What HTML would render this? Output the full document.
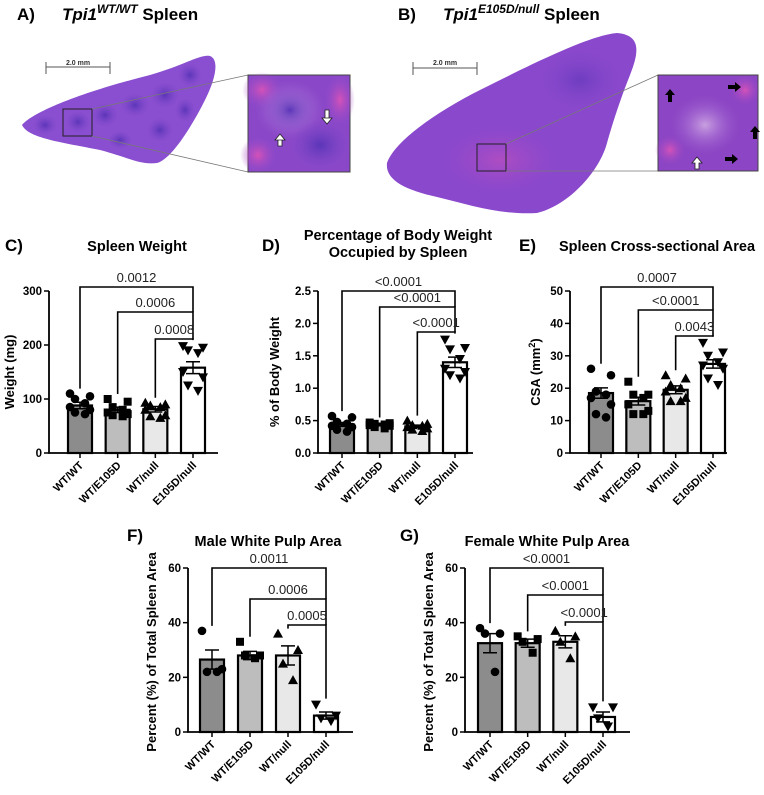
<!DOCTYPE html>
<html><head><meta charset="utf-8"><style>
html,body{margin:0;padding:0;background:#fff;}
svg{display:block;font-family:"Liberation Sans",Arial,sans-serif;}
</style></head><body>
<svg id="fig" width="764" height="795" viewBox="0 0 764 795">
<defs>
 <radialGradient id="blobA" cx="50%" cy="50%" r="50%"><stop offset="0" stop-color="#5b35b8"/><stop offset="1" stop-color="#7a45c8" stop-opacity="0"/></radialGradient>
 <radialGradient id="pinkG" cx="50%" cy="50%" r="50%"><stop offset="0" stop-color="#d452b8"/><stop offset="1" stop-color="#a04ac8" stop-opacity="0"/></radialGradient>
 <radialGradient id="paleG" cx="50%" cy="50%" r="50%"><stop offset="0" stop-color="#c9a0e0"/><stop offset="1" stop-color="#9a5ad0" stop-opacity="0"/></radialGradient>
</defs>
<!-- Panel A -->
<g>
 <text x="17" y="20" font-size="17" font-weight="bold">A)</text>
 <text x="62" y="20" font-size="17" font-weight="bold"><tspan font-style="italic">Tpi1</tspan><tspan font-size="12" dy="-7" font-style="italic">WT/WT</tspan><tspan dy="7"> Spleen</tspan></text>
 <line x1="46" y1="67" x2="110" y2="67" stroke="#555"/>
 <line x1="46" y1="62" x2="46" y2="74" stroke="#555"/><line x1="110" y1="62" x2="110" y2="74" stroke="#555"/>
 <text x="78" y="65" font-size="7" font-weight="bold" text-anchor="middle" fill="#333">2.0 mm</text>
 <path d="M22,125 C35,110 90,90 150,75 C185,65 200,54 210,56 C220,60 215,80 205,100 C190,130 170,160 157,163 C140,165 130,158 100,150 C60,142 28,138 22,125 Z" fill="#8a4ed0"/>
 <g fill="url(#blobA)">
  <ellipse cx="45" cy="125" rx="12" ry="10"/><ellipse cx="78" cy="122" rx="12" ry="11"/><ellipse cx="105" cy="115" rx="13" ry="12"/><ellipse cx="135" cy="105" rx="14" ry="12"/><ellipse cx="165" cy="95" rx="14" ry="13"/><ellipse cx="190" cy="75" rx="12" ry="12"/><ellipse cx="120" cy="140" rx="12" ry="9"/><ellipse cx="160" cy="130" rx="13" ry="12"/><ellipse cx="185" cy="110" rx="10" ry="12"/>
 </g>
 <rect x="63" y="109" width="29" height="27" fill="none" stroke="#222" stroke-width="1"/>
 <line x1="92" y1="109" x2="248" y2="75" stroke="#777" stroke-width="0.8"/><line x1="92" y1="136" x2="248" y2="172" stroke="#777" stroke-width="0.8"/>
 <rect x="248" y="75" width="102" height="97" fill="#8a48c8" stroke="#444"/>
 <ellipse cx="262" cy="90" rx="20" ry="18" fill="url(#pinkG)"/><ellipse cx="340" cy="100" rx="15" ry="25" fill="url(#pinkG)"/><ellipse cx="258" cy="155" rx="18" ry="18" fill="url(#pinkG)"/>
 <ellipse cx="290" cy="110" rx="35" ry="30" fill="url(#paleG)"/>
 <ellipse cx="290" cy="110" rx="25" ry="22" fill="url(#blobA)"/><ellipse cx="320" cy="145" rx="30" ry="25" fill="url(#blobA)"/>
 <path d="M280,140 l-5,0 l5,-6 l5,6 l-5,0 z M278,140 h4 v6 h-4 z" fill="#fff" stroke="#222" stroke-width="0.8"/>
 <path d="M327,118 l-5,0 l5,6 l5,-6 z M325,110 h4 v8 h-4 z" fill="#fff" stroke="#222" stroke-width="0.8"/>
</g>
<!-- Panel B -->
<g>
 <text x="398" y="20" font-size="17" font-weight="bold">B)</text>
 <text x="443" y="20" font-size="17" font-weight="bold"><tspan font-style="italic">Tpi1</tspan><tspan font-size="12" dy="-7" font-style="italic">E105D/null</tspan><tspan dy="7"> Spleen</tspan></text>
 <line x1="413" y1="68" x2="477" y2="68" stroke="#555"/>
 <line x1="413" y1="62" x2="413" y2="75" stroke="#555"/><line x1="477" y1="62" x2="477" y2="75" stroke="#555"/>
 <text x="445" y="65" font-size="7" font-weight="bold" text-anchor="middle" fill="#333">2.0 mm</text>
 <path d="M387,163 C395,140 440,110 480,90 C530,65 590,35 617,33 C640,35 640,50 630,75 C620,100 612,125 607,143 C600,170 570,205 537,213 C500,215 470,205 437,197 C405,190 385,180 387,163 Z" fill="#8a48cc"/>
 <ellipse cx="500" cy="160" rx="60" ry="35" fill="url(#pinkG)" opacity="0.5"/><ellipse cx="580" cy="80" rx="40" ry="30" fill="url(#blobA)" opacity="0.6"/>
 <rect x="477" y="144" width="29" height="27" fill="none" stroke="#222" stroke-width="1"/>
 <line x1="506" y1="144" x2="658" y2="75" stroke="#777" stroke-width="0.8"/><line x1="506" y1="171" x2="658" y2="171" stroke="#777" stroke-width="0.8"/>
 <rect x="658" y="75" width="100" height="96" fill="#8c45c4" stroke="#444"/>
 <ellipse cx="705" cy="125" rx="35" ry="30" fill="url(#paleG)"/><ellipse cx="670" cy="150" rx="15" ry="15" fill="url(#pinkG)"/><ellipse cx="745" cy="90" rx="15" ry="15" fill="url(#pinkG)"/>
 <g fill="#000">
  <path d="M665,95 l5,-6 l5,6 h-3 v7 h-4 v-7 z"/><path d="M750,132 l5,-6 l5,6 h-3 v7 h-4 v-7 z"/>
  <path d="M728,85 h7 v-3 l6,5 l-6,5 v-3 h-7 z"/><path d="M725,157 h7 v-3 l6,5 l-6,5 v-3 h-7 z"/>
 </g>
 <path d="M692,163 l5,-6 l5,6 h-3 v6 h-4 v-6 z" fill="#fff" stroke="#222" stroke-width="0.8"/>
</g>
<g id="charts"></g>
</svg>
<script>
// ---------- Chart data ----------
const categories = ["WT/WT","WT/E105D","WT/null","E105D/null"];
// C) spleen weight
const cMeans = [88, 80, 81, 158];
const cSem = [6, 5, 5, 11];
const cPoints = [[110,105,100,92,85,80,75,72],[100,95,85,80,75,72,70,68],[93,90,88,85,80,70,68,65],[198,195,190,185,150,140,125,115]];
const cPvals = ["0.0012","0.0006","0.0008"];
const cTicks = [0,100,200,300];
// D) % body weight
const dMeans = [0.44, 0.44, 0.41, 1.40];
const dSem = [0.03, 0.02, 0.02, 0.08];
const dPoints = [[0.57,0.55,0.48,0.45,0.42,0.40,0.36,0.33],[0.47,0.46,0.45,0.44,0.43,0.42,0.40,0.38],[0.50,0.45,0.43,0.42,0.40,0.38,0.36,0.34],[1.75,1.62,1.60,1.45,1.30,1.25,1.20,1.15]];
const dPvals = ["<0.0001","<0.0001","<0.0001"];
const dTicks = [0,0.5,1.0,1.5,2.0,2.5];
// E) cross-sectional area
const eMeans = [18.5, 16, 19.5, 27.5];
const eSem = [1.6, 1.2, 1.2, 1.3];
const ePoints = [[26,24,19,18,17,15,12,11],[22,18,18,17,15,13,12,12],[24,23,21,20,19,17,16,16],[34,31,30,28,27,26,23,21]];
const ePvals = ["0.0007","<0.0001","0.0043"];
const eTicks = [0,10,20,30,40,50];
// F) male white pulp
const fMeans = [26.5, 28, 28, 6];
const fSem = [3.5, 1.5, 3.5, 1.3];
const fPoints = [[37,23,22,22],[33,28,28,27],[36,30,25,19],[10,6,5,4]];
const fPvals = ["0.0011","0.0006","0.0005"];
const fTicks = [0,20,40,60];
// G) female white pulp
const gMeans = [32.5, 32.5, 33, 5.5];
const gSem = [3.5, 1.5, 2.2, 1.8];
const gPoints = [[38,36,36,22],[35,34,33,29],[37,35,33,27],[9,9,5,2]];
const gPvals = ["<0.0001","<0.0001","<0.0001"];
const gTicks = [0,20,40,60];

const NS = "http://www.w3.org/2000/svg";
const root = document.getElementById("charts");
const fills = ["#8c8c8c","#bdbdbd","#e8e8e8","#ffffff"];
const shapes = ["circle","square","tri-up","tri-down"];

function mk(tag, attrs, parent){
  const e = document.createElementNS(NS, tag);
  for (const k in attrs) e.setAttribute(k, attrs[k]);
  (parent||root).appendChild(e);
  return e;
}

function drawChart(cfg){
  const g = mk("g", {});
  
  
  const y = v => cfg.y0 - (v - cfg.min) / (cfg.max - cfg.min) * (cfg.y0 - cfg.yTop);
  const x = i => cfg.xs[0] + i * (cfg.xs[1] - cfg.xs[0]) / 3;
  const pl = mk("text", {x: cfg.letter[0], y: cfg.letter[1], "font-size": 17, "font-weight": "bold"}, g);
  pl.textContent = cfg.letterText;
  
  
  cfg.title.forEach((t, k) => {
    const tt = mk("text", {x: cfg.titleX, y: cfg.titleY + k * 17, "font-size": 14.5, "font-weight": "bold", "text-anchor": "middle"}, g);
    tt.textContent = t;
    
    
  });
  cfg.means.forEach((m, i) => {
    const b = mk("rect", {x: x(i) - 12, y: y(m), width: 24, height: cfg.y0 - y(m), fill: fills[i], stroke: "#000", "stroke-width": 2.2}, g);
    
    
  });
  cfg.points.forEach((arr, i) => {
    arr.forEach((v, j) => {
      const px = x(i) + (j % 2 ? 1 : -1) * (2 + (j % 4 < 2 ? 8 : 3));
      const py = y(v);
      let p;
      const s = shapes[i];
      if (s === "circle") p = mk("circle", {cx: px, cy: py, r: 4.3, fill: "#000"}, g);
      else if (s === "square") p = mk("rect", {x: px - 4, y: py - 4, width: 8, height: 8, fill: "#000"}, g);
      else if (s === "tri-up") p = mk("path", {d: `M${px},${py-5} L${px+5},${py+4} L${px-5},${py+4} Z`, fill: "#000"}, g);
      else p = mk("path", {d: `M${px},${py+5} L${px+5},${py-4} L${px-5},${py-4} Z`, fill: "#000"}, g);
      
      
    });
  });
  cfg.means.forEach((m, i) => {
    const hi = y(m + cfg.sem[i]), lo = y(m - cfg.sem[i]);
    const e = mk("path", {d: `M${x(i)},${hi} V${lo} M${x(i)-7},${hi} H${x(i)+7} M${x(i)-7},${lo} H${x(i)+7}`, stroke: "#000", "stroke-width": 1.5, fill: "none"}, g);
    
    
  });
  const ax = mk("path", {d: `M${cfg.ax},${cfg.yTop} V${cfg.y0} H${cfg.axEnd}`, stroke: "#000", "stroke-width": 1.8, fill: "none"}, g);
  
  
  cfg.ticks.forEach(t => {
    mk("line", {x1: cfg.ax - 5, x2: cfg.ax, y1: y(t), y2: y(t), stroke: "#000", "stroke-width": 1.5}, g);
    const tl = mk("text", {x: cfg.ax - 7, y: y(t) + 4, "font-size": 11.5, "font-weight": "bold", "text-anchor": "end"}, g);
    tl.textContent = cfg.tickFmt ? t.toFixed(1) : t;
    
    
  });
  categories.forEach((c, i) => {
    mk("line", {x1: x(i), x2: x(i), y1: cfg.y0, y2: cfg.y0 + 5, stroke: "#000", "stroke-width": 1.5}, g);
    const xl = mk("text", {x: x(i) + 4, y: cfg.y0 + 13, "font-size": 11, "font-weight": "bold", "text-anchor": "end", transform: `rotate(-45 ${x(i)+4} ${cfg.y0+13})`}, g);
    xl.textContent = c;
    
    
  });
  const yt = mk("text", {x: cfg.ytX, y: cfg.ytY, "font-size": 13, "font-weight": "bold", "text-anchor": "middle", transform: `rotate(-90 ${cfg.ytX} ${cfg.ytY})`}, g);
  if (cfg.sup) { yt.innerHTML = 'CSA (mm<tspan font-size="9" dy="-5">2</tspan><tspan dy="5">)</tspan>'; }
  else yt.textContent = cfg.ytitle;
  
  
  cfg.pvals.forEach((p, k) => {
    const by = cfg.brY[k];
    const leftMax = Math.max(...cfg.points[k], cfg.means[k] + cfg.sem[k]);
    const ly = y(leftMax) - 5;
    const ry = k < 2 ? cfg.brY[k + 1] : y(Math.max(...cfg.points[3])) - 6;
    const br = mk("path", {d: `M${x(k)},${ly} V${by} H${x(3)} V${ry}`, stroke: "#000", "stroke-width": 1.6, fill: "none"}, g);
    
    
    const pt = mk("text", {x: (x(k) + x(3)) / 2, y: by - 5, "font-size": 13, "text-anchor": "middle", fill: "#222"}, g);
    pt.textContent = p;
    
    
  });
}

drawChart({name:"chart-c-spleen-weight", letterText:"C)", letter:[5,251], title:["Spleen Weight"], titleX:137, titleY:251,
  means:cMeans, sem:cSem, points:cPoints, pvals:cPvals, ticks:cTicks, min:0, max:300, y0:453, yTop:291,
  xs:[80,193], ax:49, axEnd:218, ytX:14, ytY:372, ytitle:"Weight (mg)", brY:[287,312,339]});
drawChart({name:"chart-d-percent-body-weight", letterText:"D)", letter:[262,251], title:["Percentage of Body Weight","Occupied by Spleen"], titleX:398, titleY:240,
  means:dMeans, sem:dSem, points:dPoints, pvals:dPvals, ticks:dTicks, tickFmt:true, min:0, max:2.5, y0:453, yTop:291,
  xs:[342,455], ax:318, axEnd:473, ytX:279, ytY:372, ytitle:"% of Body Weight", brY:[291,307,332]});
drawChart({name:"chart-e-cross-sectional-area", letterText:"E)", letter:[519,251], title:["Spleen Cross-sectional Area"], titleX:657, titleY:251,
  means:eMeans, sem:eSem, points:ePoints, pvals:ePvals, ticks:eTicks, min:0, max:50, y0:453, yTop:291,
  xs:[601,713], ax:570, axEnd:727, ytX:540, ytY:372, sup:true, brY:[287,310,336]});
drawChart({name:"chart-f-male-white-pulp", letterText:"F)", letter:[127,541], title:["Male White Pulp Area"], titleX:268, titleY:546,
  means:fMeans, sem:fSem, points:fPoints, pvals:fPvals, ticks:fTicks, min:0, max:60, y0:732, yTop:568,
  xs:[212,326], ax:188, axEnd:353, ytX:156, ytY:652, ytitle:"Percent (%) of Total Spleen Area", brY:[568,599,625]});
drawChart({name:"chart-g-female-white-pulp", letterText:"G)", letter:[400,541], title:["Female White Pulp Area"], titleX:547, titleY:546,
  means:gMeans, sem:gSem, points:gPoints, pvals:gPvals, ticks:gTicks, min:0, max:60, y0:732, yTop:568,
  xs:[490,603], ax:465, axEnd:630, ytX:433, ytY:652, ytitle:"Percent (%) of Total Spleen Area", brY:[568,595,622]});
</script>
</body></html>
